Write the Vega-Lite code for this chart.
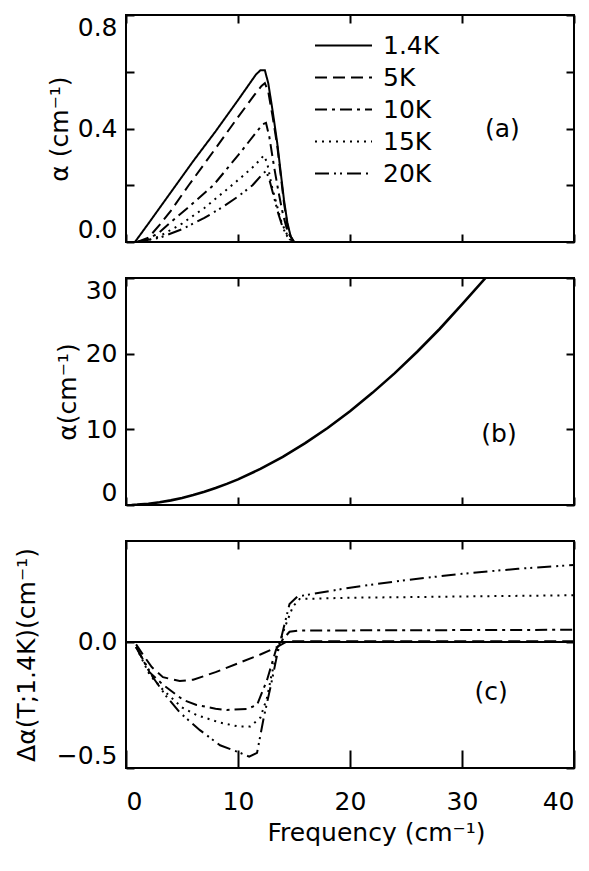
{
  "$schema": "https://vega.github.io/schema/vega-lite/v6.json",
  "background": "white",
  "padding": {"left": 13, "top": 13, "right": 14, "bottom": 5},
  "spacing": 32,
  "config": {
    "view": {"stroke": "black", "strokeWidth": 2},
    "font": "DejaVu Sans",
    "axis": {
      "domain": false, "grid": false, "ticks": true, "tickColor": "black", "tickWidth": 2, "tickSize": -8,
      "labelFont": "DejaVu Sans", "labelFontSize": 25, "labelColor": "black", "labelPadding": 17,
      "titleFont": "DejaVu Sans", "titleFontSize": 25, "titleFontWeight": "normal", "titleColor": "black"
    },
    "legend": {"labelFont": "DejaVu Sans", "labelFontSize": 25, "labelColor": "black"}
  },
  "datasets": {
    "a": [
      {"s": "1.4K", "f": 0.8, "v": 0}, {"s": "1.4K", "f": 2, "v": 0.065}, {"s": "1.4K", "f": 4, "v": 0.175}, {"s": "1.4K", "f": 6, "v": 0.285}, {"s": "1.4K", "f": 8, "v": 0.39}, {"s": "1.4K", "f": 10, "v": 0.5}, {"s": "1.4K", "f": 11.6, "v": 0.59}, {"s": "1.4K", "f": 12.0, "v": 0.605}, {"s": "1.4K", "f": 12.4, "v": 0.605}, {"s": "1.4K", "f": 12.7, "v": 0.56}, {"s": "1.4K", "f": 13.1, "v": 0.46}, {"s": "1.4K", "f": 13.5, "v": 0.35}, {"s": "1.4K", "f": 13.8, "v": 0.25}, {"s": "1.4K", "f": 14.1, "v": 0.15}, {"s": "1.4K", "f": 14.4, "v": 0.07}, {"s": "1.4K", "f": 14.7, "v": 0.02}, {"s": "1.4K", "f": 15.0, "v": 0},
      {"s": "5K", "f": 1, "v": 0}, {"s": "5K", "f": 2, "v": 0.015}, {"s": "5K", "f": 3, "v": 0.06}, {"s": "5K", "f": 4, "v": 0.11}, {"s": "5K", "f": 5.6, "v": 0.2}, {"s": "5K", "f": 8, "v": 0.33}, {"s": "5K", "f": 10, "v": 0.44}, {"s": "5K", "f": 11.5, "v": 0.52}, {"s": "5K", "f": 12.1, "v": 0.55}, {"s": "5K", "f": 12.4, "v": 0.56}, {"s": "5K", "f": 12.7, "v": 0.53}, {"s": "5K", "f": 13.1, "v": 0.44}, {"s": "5K", "f": 13.5, "v": 0.34}, {"s": "5K", "f": 13.8, "v": 0.24}, {"s": "5K", "f": 14.1, "v": 0.14}, {"s": "5K", "f": 14.4, "v": 0.06}, {"s": "5K", "f": 14.7, "v": 0.02}, {"s": "5K", "f": 15, "v": 0},
      {"s": "10K", "f": 1, "v": 0}, {"s": "10K", "f": 2, "v": 0.01}, {"s": "10K", "f": 3, "v": 0.035}, {"s": "10K", "f": 4, "v": 0.07}, {"s": "10K", "f": 5.5, "v": 0.12}, {"s": "10K", "f": 7.8, "v": 0.2}, {"s": "10K", "f": 10, "v": 0.305}, {"s": "10K", "f": 11.5, "v": 0.38}, {"s": "10K", "f": 12.2, "v": 0.415}, {"s": "10K", "f": 12.5, "v": 0.42}, {"s": "10K", "f": 12.8, "v": 0.37}, {"s": "10K", "f": 13.2, "v": 0.27}, {"s": "10K", "f": 13.6, "v": 0.18}, {"s": "10K", "f": 14.0, "v": 0.1}, {"s": "10K", "f": 14.4, "v": 0.04}, {"s": "10K", "f": 14.8, "v": 0.01}, {"s": "10K", "f": 15, "v": 0},
      {"s": "15K", "f": 1.5, "v": 0}, {"s": "15K", "f": 3, "v": 0.02}, {"s": "15K", "f": 5, "v": 0.065}, {"s": "15K", "f": 7, "v": 0.12}, {"s": "15K", "f": 9, "v": 0.185}, {"s": "15K", "f": 10.5, "v": 0.235}, {"s": "15K", "f": 11.5, "v": 0.27}, {"s": "15K", "f": 12.3, "v": 0.305}, {"s": "15K", "f": 12.6, "v": 0.28}, {"s": "15K", "f": 13.0, "v": 0.2}, {"s": "15K", "f": 13.4, "v": 0.14}, {"s": "15K", "f": 13.8, "v": 0.08}, {"s": "15K", "f": 14.2, "v": 0.04}, {"s": "15K", "f": 14.6, "v": 0.01}, {"s": "15K", "f": 15, "v": 0},
      {"s": "20K", "f": 1, "v": 0}, {"s": "20K", "f": 3, "v": 0.015}, {"s": "20K", "f": 5, "v": 0.045}, {"s": "20K", "f": 7, "v": 0.085}, {"s": "20K", "f": 8.5, "v": 0.12}, {"s": "20K", "f": 10, "v": 0.16}, {"s": "20K", "f": 11.3, "v": 0.2}, {"s": "20K", "f": 12.2, "v": 0.24}, {"s": "20K", "f": 12.5, "v": 0.25}, {"s": "20K", "f": 12.8, "v": 0.22}, {"s": "20K", "f": 13.2, "v": 0.16}, {"s": "20K", "f": 13.6, "v": 0.1}, {"s": "20K", "f": 14.0, "v": 0.05}, {"s": "20K", "f": 14.4, "v": 0.02}, {"s": "20K", "f": 15, "v": 0}
    ],
    "b": [
      {"s": "1.4K", "f": 0.5, "v": 0.01}, {"s": "1.4K", "f": 1, "v": 0.05}, {"s": "1.4K", "f": 2, "v": 0.17}, {"s": "1.4K", "f": 3, "v": 0.36}, {"s": "1.4K", "f": 4, "v": 0.61}, {"s": "1.4K", "f": 5, "v": 0.93}, {"s": "1.4K", "f": 6, "v": 1.31}, {"s": "1.4K", "f": 7, "v": 1.74}, {"s": "1.4K", "f": 8, "v": 2.24}, {"s": "1.4K", "f": 9, "v": 2.79}, {"s": "1.4K", "f": 10, "v": 3.39}, {"s": "1.4K", "f": 12, "v": 4.77}, {"s": "1.4K", "f": 14, "v": 6.36}, {"s": "1.4K", "f": 16, "v": 8.17}, {"s": "1.4K", "f": 18, "v": 10.18}, {"s": "1.4K", "f": 20, "v": 12.4}, {"s": "1.4K", "f": 22, "v": 14.82}, {"s": "1.4K", "f": 24, "v": 17.43}, {"s": "1.4K", "f": 26, "v": 20.25}, {"s": "1.4K", "f": 28, "v": 23.26}, {"s": "1.4K", "f": 30, "v": 26.5}, {"s": "1.4K", "f": 32.1, "v": 30.0}
    ],
    "c": [
      {"s": "1.4K", "f": 0, "v": 0}, {"s": "1.4K", "f": 40, "v": 0},
      {"s": "5K", "f": 0.9, "v": -0.01}, {"s": "5K", "f": 1.5, "v": -0.05}, {"s": "5K", "f": 2.3, "v": -0.1}, {"s": "5K", "f": 3.3, "v": -0.14}, {"s": "5K", "f": 4.8, "v": -0.155}, {"s": "5K", "f": 6, "v": -0.15}, {"s": "5K", "f": 8, "v": -0.12}, {"s": "5K", "f": 10, "v": -0.085}, {"s": "5K", "f": 12, "v": -0.05}, {"s": "5K", "f": 13.5, "v": -0.02}, {"s": "5K", "f": 14.3, "v": 0}, {"s": "5K", "f": 15, "v": 0.003}, {"s": "5K", "f": 40, "v": 0.003},
      {"s": "10K", "f": 0.9, "v": -0.02}, {"s": "10K", "f": 2.1, "v": -0.12}, {"s": "10K", "f": 3.3, "v": -0.17}, {"s": "10K", "f": 5.1, "v": -0.23}, {"s": "10K", "f": 6.3, "v": -0.25}, {"s": "10K", "f": 8, "v": -0.265}, {"s": "10K", "f": 9, "v": -0.27}, {"s": "10K", "f": 10.8, "v": -0.266}, {"s": "10K", "f": 11.7, "v": -0.25}, {"s": "10K", "f": 12.6, "v": -0.15}, {"s": "10K", "f": 13.4, "v": -0.03}, {"s": "10K", "f": 14, "v": 0.01}, {"s": "10K", "f": 14.6, "v": 0.04}, {"s": "10K", "f": 15.5, "v": 0.045}, {"s": "10K", "f": 40, "v": 0.048},
      {"s": "15K", "f": 0.9, "v": -0.02}, {"s": "15K", "f": 2.1, "v": -0.13}, {"s": "15K", "f": 3.3, "v": -0.19}, {"s": "15K", "f": 5, "v": -0.26}, {"s": "15K", "f": 6.3, "v": -0.29}, {"s": "15K", "f": 8.4, "v": -0.32}, {"s": "15K", "f": 10, "v": -0.335}, {"s": "15K", "f": 11.1, "v": -0.335}, {"s": "15K", "f": 12, "v": -0.3}, {"s": "15K", "f": 12.6, "v": -0.22}, {"s": "15K", "f": 13, "v": -0.13}, {"s": "15K", "f": 13.6, "v": -0.02}, {"s": "15K", "f": 14.2, "v": 0.06}, {"s": "15K", "f": 14.9, "v": 0.14}, {"s": "15K", "f": 15.5, "v": 0.17}, {"s": "15K", "f": 20, "v": 0.175}, {"s": "15K", "f": 30, "v": 0.18}, {"s": "15K", "f": 40, "v": 0.185},
      {"s": "20K", "f": 0.9, "v": -0.02}, {"s": "20K", "f": 2.4, "v": -0.14}, {"s": "20K", "f": 3.5, "v": -0.21}, {"s": "20K", "f": 4.8, "v": -0.28}, {"s": "20K", "f": 6.6, "v": -0.35}, {"s": "20K", "f": 8.4, "v": -0.41}, {"s": "20K", "f": 10.2, "v": -0.44}, {"s": "20K", "f": 11.0, "v": -0.455}, {"s": "20K", "f": 11.7, "v": -0.44}, {"s": "20K", "f": 12.3, "v": -0.3}, {"s": "20K", "f": 12.9, "v": -0.18}, {"s": "20K", "f": 13.5, "v": -0.05}, {"s": "20K", "f": 14.1, "v": 0.06}, {"s": "20K", "f": 14.6, "v": 0.15}, {"s": "20K", "f": 15.3, "v": 0.18}, {"s": "20K", "f": 20, "v": 0.215}, {"s": "20K", "f": 25, "v": 0.245}, {"s": "20K", "f": 30, "v": 0.27}, {"s": "20K", "f": 35, "v": 0.29}, {"s": "20K", "f": 40, "v": 0.305}
    ],
    "labels": [
      {"p": "a", "t": "(a)", "f": 33.6, "v": 0.4},
      {"p": "b", "t": "(b)", "f": 33.3, "v": 9.4},
      {"p": "c", "t": "(c)", "f": 32.6, "v": -0.2}
    ]
  },
  "vconcat": [
    {
      "width": 448, "height": 227,
      "layer": [
        {
          "data": {"name": "a"},
          "mark": {"type": "line", "strokeWidth": 2, "color": "black", "clip": true},
          "encoding": {
            "x": {"field": "f", "type": "quantitative", "scale": {"domain": [0, 40], "nice": false}, "axis": {"labels": false, "title": null, "values": [0, 10, 20, 30, 40]}},
            "y": {"field": "v", "type": "quantitative", "scale": {"domain": [0, 0.8], "nice": false}, "axis": {"values": [0, 0.2, 0.4, 0.6, 0.8], "labelExpr": "datum.value == 0.2 || datum.value == 0.6 ? '' : format(datum.value, '.1f')", "labelFlush": true, "title": "α (cm⁻¹)", "titlePadding": 5}},
            "strokeDash": {"field": "s", "type": "nominal", "sort": ["1.4K", "5K", "10K", "15K", "20K"],
              "scale": {"domain": ["1.4K", "5K", "10K", "15K", "20K"], "range": [[1, 0], [12, 6], [12, 5, 3, 5], [2, 5], [14, 5, 2, 4, 2, 5]]},
              "legend": {"title": null, "orient": "none", "legendX": 205, "legendY": 18, "padding": 0, "symbolType": "M-3,0H3", "symbolSize": 361, "symbolStrokeWidth": 2, "symbolStrokeColor": "black", "symbolFillColor": "transparent", "rowPadding": 6, "labelOffset": 27}},
            "detail": {"field": "s"}
          }
        },
        {
          "data": {"name": "labels"},
          "transform": [{"filter": "datum.p == 'a'"}],
          "mark": {"type": "text", "fontSize": 25, "font": "DejaVu Sans", "color": "black"},
          "encoding": {
            "x": {"field": "f", "type": "quantitative", "axis": {"orient": "top", "labels": false, "title": null, "values": [0, 10, 20, 30, 40]}},
            "y": {"field": "v", "type": "quantitative", "axis": {"orient": "right", "labels": false, "title": null, "values": [0, 0.2, 0.4, 0.6, 0.8]}},
            "text": {"field": "t"}
          }
        }
      ],
      "resolve": {"axis": {"x": "independent", "y": "independent"}}
    },
    {
      "width": 448, "height": 227,
      "layer": [
        {
          "data": {"name": "b"},
          "mark": {"type": "line", "strokeWidth": 2.6, "color": "black", "clip": true},
          "encoding": {
            "x": {"field": "f", "type": "quantitative", "scale": {"domain": [0, 40], "nice": false}, "axis": {"labels": false, "title": null, "values": [0, 10, 20, 30, 40]}},
            "y": {"field": "v", "type": "quantitative", "scale": {"domain": [0, 30], "nice": false}, "axis": {"values": [0, 10, 20, 30], "labelFlush": true, "title": "α(cm⁻¹)", "titlePadding": 5}}
          }
        },
        {
          "data": {"name": "labels"},
          "transform": [{"filter": "datum.p == 'b'"}],
          "mark": {"type": "text", "fontSize": 25, "font": "DejaVu Sans", "color": "black"},
          "encoding": {
            "x": {"field": "f", "type": "quantitative", "axis": {"orient": "top", "labels": false, "title": null, "values": [0, 10, 20, 30, 40]}},
            "y": {"field": "v", "type": "quantitative", "axis": {"orient": "right", "labels": false, "title": null, "values": [0, 10, 20, 30]}},
            "text": {"field": "t"}
          }
        }
      ],
      "resolve": {"axis": {"x": "independent", "y": "independent"}}
    },
    {
      "width": 448, "height": 227,
      "layer": [
        {
          "data": {"name": "c"},
          "mark": {"type": "line", "strokeWidth": 2, "color": "black", "clip": true},
          "encoding": {
            "x": {"field": "f", "type": "quantitative", "scale": {"domain": [0, 40], "nice": false}, "axis": {"values": [0, 10, 20, 30, 40], "tickSize": -18, "labelPadding": 39, "title": "Frequency  (cm⁻¹)", "titlePadding": 6, "titleX": 250}},
            "y": {"field": "v", "type": "quantitative", "scale": {"domain": [-0.5, 0.4], "nice": false}, "axis": {"values": [-0.5, 0.0], "format": ".1f", "labelFlush": true, "title": "Δα(T;1.4K)(cm⁻¹)", "titlePadding": 17}},
            "strokeDash": {"field": "s", "type": "nominal",
              "scale": {"domain": ["1.4K", "5K", "10K", "15K", "20K"], "range": [[1, 0], [12, 6], [12, 5, 3, 5], [2, 5], [14, 5, 2, 4, 2, 5]]},
              "legend": null},
            "detail": {"field": "s"}
          }
        },
        {
          "data": {"name": "labels"},
          "transform": [{"filter": "datum.p == 'c'"}],
          "mark": {"type": "text", "fontSize": 25, "font": "DejaVu Sans", "color": "black"},
          "encoding": {
            "x": {"field": "f", "type": "quantitative", "axis": {"orient": "top", "labels": false, "title": null, "values": [0, 10, 20, 30, 40]}},
            "y": {"field": "v", "type": "quantitative", "axis": {"orient": "right", "labels": false, "title": null, "values": [-0.5, 0.0]}},
            "text": {"field": "t"}
          }
        }
      ],
      "resolve": {"axis": {"x": "independent", "y": "independent"}}
    }
  ]
}
